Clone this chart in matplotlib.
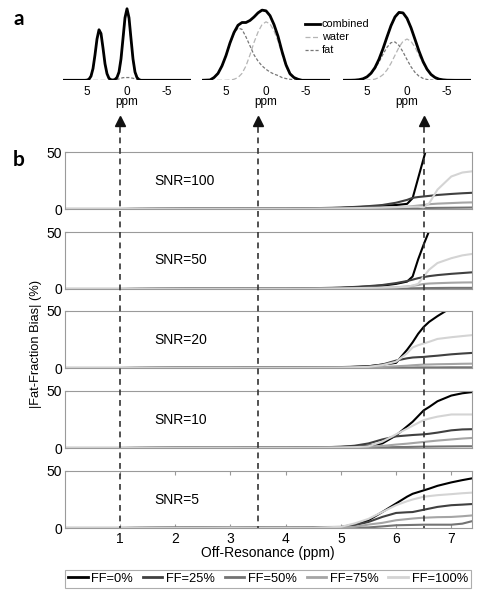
import numpy as np
import matplotlib
matplotlib.use("Agg")
import matplotlib.pyplot as plt
from matplotlib.lines import Line2D
from matplotlib.transforms import blended_transform_factory

plt.rcParams['font.family'] = ['Liberation Sans', 'DejaVu Sans']

# ---------------- top row: spectra (ppm, normalised amplitude) ----------------
spec1_ppm = [8, 5.25, 5.0, 4.75, 4.5, 4.25, 4.0, 3.75, 3.5, 3.25, 3.0, 2.75, 2.5, 2.25, 2.0,
             1.75, 1.5, 1.25, 1.0, 0.75, 0.5, 0.25, 0, -0.25, -0.5, -0.75, -1.0, -1.25, -1.5, -1.75, -8]
spec1_water = [0, 0, 0, 0, 0, 0, 0, 0, 0, 0, 0, 0, 0, 0, 0,
               0, 0.006, 0.03, 0.10, 0.28, 0.57, 0.87, 1.0, 0.87, 0.57, 0.28, 0.10, 0.03, 0.006, 0, 0]
spec1_fat = [0, 0, 0.003, 0.016, 0.06, 0.17, 0.37, 0.60, 0.735, 0.68, 0.47, 0.24, 0.096, 0.028, 0.008,
             0.004, 0.006, 0.012, 0.02, 0.03, 0.038, 0.04, 0.04, 0.04, 0.035, 0.03, 0.02, 0.01, 0.004, 0, 0]

spec2_ppm = [8, 7, 6.5, 6, 5.5, 5, 4.5, 4, 3.5, 3, 2.5, 2, 1.5, 1, 0.5, 0,
             -0.5, -1, -1.5, -2, -2.5, -3, -3.5, -4, -4.5, -8]
spec2_water = [0, 0, 0, 0, 0, 0, 0.003, 0.015, 0.04, 0.10, 0.21, 0.37, 0.55, 0.70, 0.81, 0.85,
               0.82, 0.72, 0.57, 0.38, 0.20, 0.08, 0.03, 0.01, 0, 0]
spec2_fat = [0, 0.005, 0.04, 0.10, 0.21, 0.36, 0.54, 0.68, 0.76, 0.74, 0.63, 0.50, 0.37, 0.28, 0.21, 0.16,
             0.12, 0.09, 0.07, 0.04, 0.025, 0.015, 0.01, 0.005, 0, 0]

spec3_ppm = [8, 7, 6.5, 6, 5.5, 5, 4.5, 4, 3.5, 3, 2.5, 2, 1.5, 1, 0.5, 0,
             -0.5, -1, -1.5, -2, -2.5, -3, -3.5, -4, -4.5, -5, -5.5, -6, -8]
spec3_water = [0, 0, 0, 0, 0.001, 0.002, 0.007, 0.017, 0.04, 0.081, 0.15, 0.247, 0.364, 0.48, 0.567, 0.6,
               0.567, 0.48, 0.364, 0.247, 0.15, 0.081, 0.04, 0.017, 0.007, 0.002, 0.001, 0, 0]
spec3_fat = [0, 0.001, 0.003, 0.009, 0.021, 0.048, 0.095, 0.168, 0.266, 0.378, 0.48, 0.547, 0.557, 0.507, 0.413, 0.301,
             0.197, 0.115, 0.06, 0.028, 0.012, 0.004, 0.001, 0, 0, 0, 0, 0, 0]

spec_ticks = [5, 0, -5]
spec_ticklabels = ['5', '0', '-5']

# ---------------- bottom panels: |fat-fraction bias| (%) vs off-resonance (ppm) ----------------
offres = [0, 1, 2, 2.5, 3, 3.5, 4, 4.5, 5, 5.25, 5.5, 5.75, 6, 6.2, 6.3, 6.4, 6.5, 6.6, 6.75, 7, 7.2, 7.37]
nan = np.nan

snr_labels = ['SNR=100', 'SNR=50', 'SNR=20', 'SNR=10', 'SNR=5']
ff_labels = ['FF=0%', 'FF=25%', 'FF=50%', 'FF=75%', 'FF=100%']

bias_snr100 = [
    [0, 0, 0.3, 0.5, 0.5, 0.3, 0.3, 0.5, 1.0, 1.5, 2.0, 2.8, 3.5, 4.5, 9.5, 27, 44.5, 62, nan, nan, nan, nan],
    [0, 0, 0.3, 0.6, 0.6, 0.4, 0.4, 0.7, 1.2, 1.8, 2.5, 3.5, 5.5, 8, 9.8, 10.5, 11, 11.5, 12.3, 13.2, 13.8, 14.2],
    [0, 0, 0, 0, 0, 0, 0, 0, 0.1, 0.2, 0.3, 0.4, 0.5, 0.6, 0.7, 0.8, 0.8, 0.9, 1.0, 1.1, 1.2, 1.3],
    [0, 0, 0.2, 0.3, 0.3, 0.2, 0.2, 0.3, 0.4, 0.6, 0.8, 1.1, 1.5, 2.0, 2.5, 3.0, 3.5, 4.2, 4.7, 5.2, 5.6, 5.8],
    [0, 0, 0.2, 0.3, 0.3, 0.2, 0.2, 0.3, 0.5, 0.7, 1.0, 1.3, 1.6, 1.8, 2.0, 2.0, 1.5, 5, 17, 28.5, 32, 33],
]
bias_snr50 = [
    [0, 0, 0.3, 0.5, 0.5, 0.3, 0.3, 0.5, 1.0, 1.5, 2.2, 3.0, 4.5, 6.5, 11, 26, 39, 51, nan, nan, nan, nan],
    [0, 0, 0.3, 0.6, 0.6, 0.4, 0.4, 0.7, 1.2, 1.8, 2.5, 3.5, 5.2, 7, 8.2, 9.5, 10.5, 11.3, 12.2, 13.3, 14, 14.6],
    [0, 0, 0, 0, 0, 0, 0, 0, 0.1, 0.2, 0.3, 0.4, 0.5, 0.6, 0.6, 0.7, 0.8, 0.8, 0.9, 1.0, 1.0, 1.0],
    [0, 0, 0.2, 0.3, 0.3, 0.2, 0.2, 0.3, 0.4, 0.6, 0.8, 1.1, 1.5, 2.2, 2.8, 3.5, 4.4, 4.8, 5.1, 5.5, 5.7, 5.8],
    [0, 0, 0.2, 0.3, 0.3, 0.2, 0.2, 0.3, 0.5, 0.7, 1.0, 1.2, 1.5, 2.0, 3.0, 4.5, 11, 17, 22.8, 27, 29.5, 30.7],
]
bias_snr20 = [
    [0, 0, 0.3, 0.4, 0.4, 0.3, 0.3, 0.4, 0.5, 1.0, 1.5, 3.0, 4.5, 16, 22.5, 30, 36, 40.5, 45.5, 53, nan, nan],
    [0, 0, 0.3, 0.5, 0.5, 0.4, 0.4, 0.6, 0.8, 1.1, 1.5, 3.0, 6.5, 8.5, 9.2, 9.5, 9.7, 10.2, 10.8, 12, 12.7, 13.2],
    [0, 0, 0, 0, 0, 0, 0, 0, 0.1, 0.1, 0.2, 0.3, 0.3, 0.4, 0.4, 0.5, 0.5, 0.5, 0.5, 0.6, 0.6, 0.6],
    [0, 0, 0.2, 0.3, 0.3, 0.2, 0.2, 0.3, 0.3, 0.4, 0.6, 0.9, 1.5, 2.0, 2.4, 2.7, 3.0, 3.1, 3.3, 3.5, 3.7, 3.8],
    [0, 0, 0.2, 0.3, 0.3, 0.2, 0.2, 0.3, 0.4, 0.6, 1.0, 2.5, 5.5, 13, 18, 20, 21.5, 23, 25.5, 27, 28, 28.8],
]
bias_snr10 = [
    [0, 0, 0.3, 0.4, 0.4, 0.3, 0.3, 0.5, 1.0, 1.3, 2.0, 4.0, 11, 19, 23, 28, 33, 36, 41, 46, 48, 49],
    [0, 0, 0.3, 0.5, 0.5, 0.4, 0.4, 0.6, 1.0, 2.0, 4.0, 7.5, 10.2, 11, 11.4, 11.7, 12, 12.5, 13.5, 15.5, 16.3, 16.5],
    [0, 0, 0, 0, 0, 0, 0, 0, 0.1, 0.2, 0.3, 0.5, 0.8, 0.9, 1.0, 1.1, 1.2, 1.2, 1.3, 1.4, 1.5, 1.5],
    [0, 0, 0.2, 0.3, 0.3, 0.2, 0.2, 0.3, 0.4, 0.6, 1.0, 1.8, 3.0, 3.8, 4.3, 4.8, 5.3, 5.8, 6.5, 7.5, 8.3, 8.8],
    [0, 0, 0.2, 0.3, 0.3, 0.2, 0.2, 0.3, 0.4, 0.7, 1.5, 5.5, 12, 17, 19.5, 22, 24.4, 25.8, 27.5, 29.4, 29.4, 29.4],
]
bias_snr5 = [
    [0, 0, 0.3, 0.4, 0.5, 0.4, 0.4, 0.8, 0.9, 3.0, 6.8, 14, 21.5, 27.5, 30, 31.5, 33, 34.5, 37, 40, 42, 43.5],
    [0, 0, 0.3, 0.6, 0.8, 0.6, 0.5, 0.4, 0.5, 2.5, 5.3, 9.7, 13.2, 13.8, 14, 15, 16, 17, 18.5, 20, 20.5, 21],
    [0, 0, 0, 0, 0, 0, 0, 0, 0, 0.2, 0.5, 1.4, 2.4, 2.6, 2.7, 2.8, 2.9, 2.9, 2.9, 2.9, 3.8, 5.9],
    [0, 0, 0.2, 0.3, 0.4, 0.3, 0.3, 0.3, 0.4, 1.0, 3.0, 4.5, 6.8, 7.8, 8.3, 8.7, 9.0, 9.2, 9.5, 9.7, 10.3, 11],
    [0, 0, 0.2, 0.3, 0.4, 0.3, 0.3, 0.4, 1.0, 4.0, 8.0, 14, 20, 23.5, 25, 26.2, 27.4, 28, 28.8, 29.7, 30.5, 31],
]
bias_panels = [bias_snr100, bias_snr50, bias_snr20, bias_snr10, bias_snr5]
snr_ticks = [0, 50]
x_ticks = [1, 2, 3, 4, 5, 6, 7]
arrow_ppm = [1, 3.5, 6.5]

ff_colors = ['#000000', '#404040', '#737373', '#a5a5a5', '#d4d4d4']

# ---------------- figure ----------------
W, H = 483, 600
fig = plt.figure(figsize=(W / 100, H / 100), dpi=100)


def rect(left, top, width, height):
    return [left / W, 1 - (top + height) / H, width / W, height / H]


# top spectra
spec_sets = [(spec1_ppm, spec1_water, spec1_fat),
             (spec2_ppm, spec2_water, spec2_fat),
             (spec3_ppm, spec3_water, spec3_fat)]
spec_lefts = [63, 202, 343]
for (ppm, wat, fat), left in zip(spec_sets, spec_lefts):
    ax = fig.add_axes(rect(left, 6, 128, 74.3))
    comb = np.array(wat) + np.array(fat)
    ax.plot(ppm, wat, color='#b5b5b5', lw=0.9, dashes=(4, 2))
    ax.plot(ppm, fat, color='#777777', lw=0.9, dashes=(2.5, 1.5))
    ax.plot(ppm, comb, color='black', lw=2.0, solid_capstyle='butt')
    ax.set_xlim(8, -8)
    ax.set_ylim(0, 1.08)
    for s in ax.spines.values():
        s.set_visible(False)
    ax.set_yticks([])
    ax.set_xticks(spec_ticks)
    ax.set_xticklabels(spec_ticklabels, fontsize=8.5)
    ax.tick_params(axis='x', length=0, pad=4)
    ax.set_xlabel('ppm', fontsize=8.5, labelpad=-1)
    ax.patch.set_alpha(0)

# spectra legend (drawn in figure space)
leg_items = [('combined', 'black', 2.0, None), ('water', '#b5b5b5', 0.9, (4, 2)), ('fat', '#777777', 0.9, (2.5, 1.5))]
for i, (lab, col, lw, dsh) in enumerate(leg_items):
    yy = 1 - (24 + 13 * i) / H
    ln = Line2D([305 / W, 320 / W], [yy, yy], color=col, lw=lw, transform=fig.transFigure)
    if dsh:
        ln.set_dashes(dsh)
    fig.add_artist(ln)
    fig.text(322 / W, yy, lab, fontsize=7.8, va='center', ha='left')

# bottom panels
tops = [152, 232, 311, 391, 471]
axes = []
for k, (top, data, lab) in enumerate(zip(tops, bias_panels, snr_labels)):
    ax = fig.add_axes(rect(64.8, top, 406.9, 57))
    for ser, col in zip(data, ff_colors):
        ax.plot(offres, ser, color=col, lw=1.5)
    ax.set_xlim(0, 7.37)
    ax.set_ylim(0, 50)
    ax.set_yticks(snr_ticks)
    ax.set_yticklabels([str(t) for t in snr_ticks], fontsize=10)
    ax.tick_params(axis='y', direction='in', length=2, pad=2, colors='#999999', labelcolor='black')
    for s in ax.spines.values():
        s.set_color('#9a9a9a')
        s.set_linewidth(0.8)
    if k < 4:
        ax.set_xticks([])
    else:
        ax.set_xticks(x_ticks)
        ax.set_xticklabels([str(t) for t in x_ticks], fontsize=10)
        ax.tick_params(axis='x', direction='in', length=3, top=True, pad=3,
                       colors='#999999', labelcolor='black')
    tr = blended_transform_factory(ax.transData, ax.transAxes)
    ax.text(1.62, 0.5, lab, transform=tr, fontsize=10, va='center', ha='left')
    axes.append(ax)

ax5 = axes[-1]
fig.text(268 / W, 1 - 553 / H, 'Off-Resonance (ppm)', fontsize=10, ha='center', va='center')
fig.text(35.5 / W, 1 - 344 / H, '|Fat-Fraction Bias| (%)', fontsize=9.3, ha='center', va='center',
         rotation=90)

# dashed guide lines with arrows
inv = fig.transFigure.inverted()
for xp in arrow_ppm:
    xf = inv.transform(ax5.transData.transform((xp, 0)))[0]
    ln = Line2D([xf, xf], [1 - 127 / H, 1 - 528 / H], color='#333333', lw=1.2,
                linestyle=(0, (3.5, 2.8)), transform=fig.transFigure, zorder=5)
    fig.add_artist(ln)
    mk = Line2D([xf], [1 - 121 / H], marker='^', markersize=7.5, color='#111111',
                linestyle='none', transform=fig.transFigure)
    fig.add_artist(mk)

# legend
handles = [Line2D([0], [0], color=c, lw=2) for c in ff_colors]
leg = fig.legend(handles, ff_labels, loc='lower left', ncol=5, mode='expand',
                 bbox_to_anchor=(65 / W, 1 - 588 / H, 406 / W, 20 / H), borderaxespad=0,
                 fontsize=9.3, handlelength=1.5, handletextpad=0.3, columnspacing=0.4,
                 borderpad=0.25, fancybox=False, frameon=True)
leg.get_frame().set_edgecolor('#999999')
leg.get_frame().set_linewidth(0.8)

fig.text(13 / W, 1 - 19 / H, 'a', fontsize=15, fontweight='bold', family='Lato', va='center', ha='left')
fig.text(13 / W, 1 - 160 / H, 'b', fontsize=15, fontweight='bold', family='Lato', va='center', ha='left')

fig.savefig('out.png', dpi=100)
